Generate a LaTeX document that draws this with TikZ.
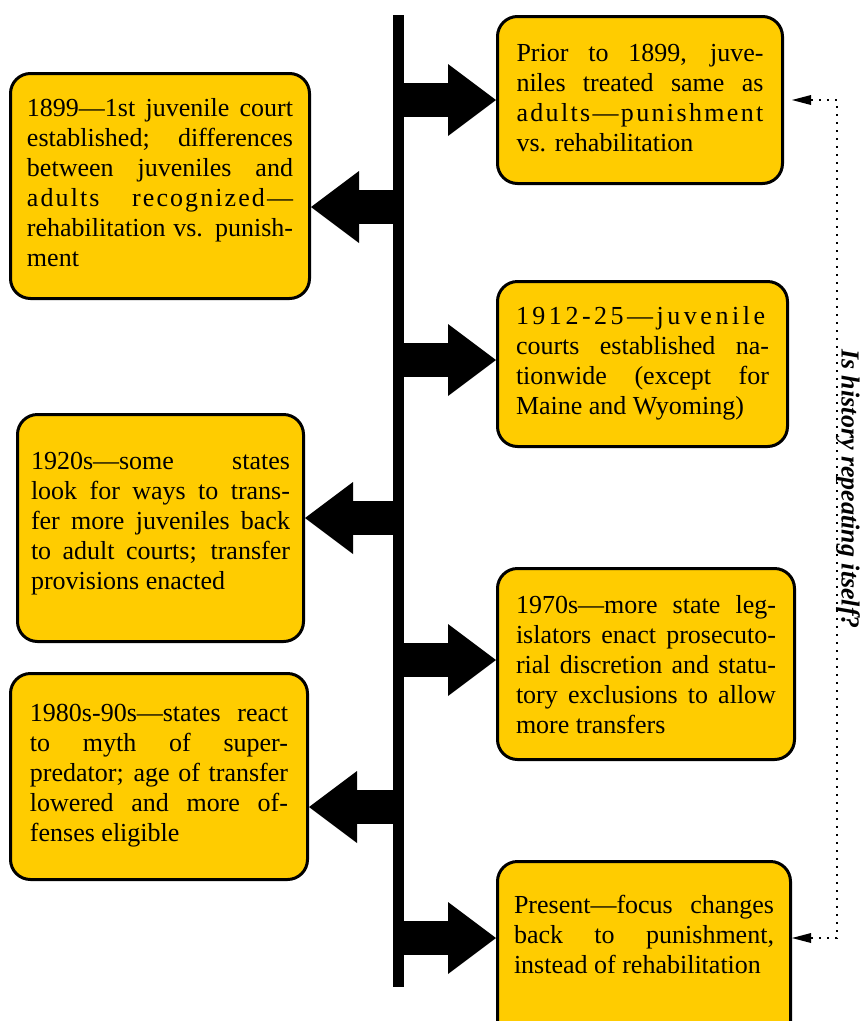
\documentclass[tikz,border=0pt]{standalone}
\usepackage{fontspec}
\setmainfont{Liberation Serif}
\usetikzlibrary{arrows.meta}
\definecolor{boxgold}{RGB}{255,204,0}
\hyphenpenalty=10000
\tolerance=10000
\tikzset{
  event/.style={draw=black, line width=3pt, fill=boxgold, rounded corners=20pt,
    anchor=north west, align=justify, inner ysep=0pt,
    font=\fontsize{26}{30}\selectfont},
  spine/.style={line width=11pt},
  bigarrow/.style={line width=34pt, -{Triangle[length=48pt,width=72pt,line width=0pt]}},
  history/.style={line width=1.8pt, dash pattern=on 1.8pt off 6.2pt,
    {Triangle[length=19pt,width=10pt,line width=0pt]}-{Triangle[length=19pt,width=10pt,line width=0pt]}}
}
\begin{document}
\begin{tikzpicture}[x=1pt,y=-1pt]
\useasboundingbox (0,0) rectangle (862,1021);
\clip (0,0) rectangle (862,1021);
\node [event, text width=247pt, inner xsep=19pt, text height=45pt, text depth=122pt] (r1) at (496,15)
  {Prior to 1899, juve-\linebreak niles treated same as\linebreak {\addfontfeature{LetterSpace=9}adults—punishment}\linebreak vs. rehabilitation};
\node [event, text width=253pt, inner xsep=18.5pt, text height=43pt, text depth=122pt] (r2) at (496,280)
  {{\addfontfeature{LetterSpace=13.5}1912-25—juvenile}\linebreak courts established na-\linebreak tionwide (except for\linebreak Maine and Wyoming)};
\node [event, text width=260pt, inner xsep=18.5pt, text height=45pt, text depth=146pt] (r3) at (496,567)
  {1970s—more state leg-\linebreak islators enact prosecuto-\linebreak rial discretion and statu-\linebreak tory exclusions to allow\linebreak more transfers};
\node [event, text width=260pt, inner xsep=16.5pt, text height=52pt, text depth=200pt] (r4) at (496,860)
  {Present—focus changes\linebreak back to punishment,\linebreak instead of rehabilitation};
\node [event, text width=266pt, inner xsep=16.5pt, text height=43pt, text depth=182pt] (l1) at (9,72)
  {1899—1st juvenile court\linebreak established; differences\linebreak between juveniles and\linebreak {\addfontfeature{LetterSpace=8}adults recognized—}\linebreak rehabilitation vs. punish-\linebreak ment};
\node [event, text width=259pt, inner xsep=13.5pt, text height=55pt, text depth=172pt] (l2) at (16,413)
  {1920s—some states\linebreak look for ways to trans-\linebreak fer more juveniles back\linebreak to adult courts; transfer\linebreak provisions enacted};
\node [event, text width=258pt, inner xsep=19.5pt, text height=48pt, text depth=158pt] (l3) at (9,672)
  {1980s-90s—states react\linebreak to myth of super-\linebreak predator; age of transfer\linebreak lowered and more of-\linebreak fenses eligible};
\coordinate (top) at (398.5,15);
\coordinate (bottom) at (398.5,987);
\draw [spine] (top) -- (bottom);
\coordinate (a1) at (398.5,100);
\coordinate (a2) at (398.5,207);
\coordinate (a3) at (398.5,360);
\coordinate (a4) at (398.5,518);
\coordinate (a5) at (398.5,660);
\coordinate (a6) at (398.5,807);
\coordinate (a7) at (398.5,938);
\draw [bigarrow] (a1) -- (a1 -| r1.west);
\draw [bigarrow] (a2) -- (a2 -| l1.east);
\draw [bigarrow] (a3) -- (a3 -| r2.west);
\draw [bigarrow] (a4) -- (a4 -| l2.east);
\draw [bigarrow] (a5) -- (a5 -| r3.west);
\draw [bigarrow] (a6) -- (a6 -| l3.east);
\draw [bigarrow] (a7) -- (a7 -| r4.west);
\coordinate (h2) at (837,938);
\draw [history] ([xshift=8pt]r1.east) -| (h2) -- (h2 -| r4.east);
\node [rotate=-90, font=\fontsize{26}{30}\selectfont\bfseries\itshape] (question) at (848,489) {Is history repeating itself?};
\end{tikzpicture}
\end{document}
